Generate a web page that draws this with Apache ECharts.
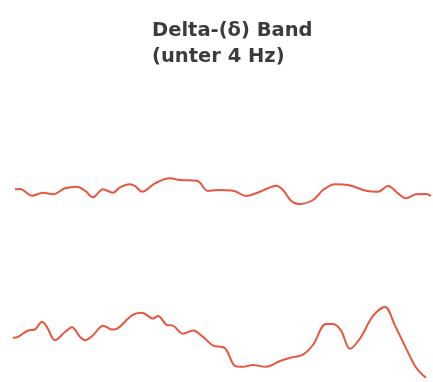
<!DOCTYPE html>
<html><head><meta charset="utf-8">
<script src="https://cdn.jsdelivr.net/npm/echarts@6/dist/echarts.min.js"></script>
<style>html,body{margin:0;padding:0;background:#fff}#c{width:433px;height:382px}</style>
</head><body><div id="c"></div>
<script>
// Trace 1 (upper): time (arbitrary units) and amplitude (arbitrary units, positive up)
const t1 = [15,20,32,43,53,65,77,85,93,103,113,120,130,135,142,155,170,180,197,208,218,234,246,256,268,276,283,291,299,313,323,335,348,366,378,388,398,406,416,426,431];
const a1 = [0.7,1,-5.7,-2.7,-4.3,1.7,3.3,-0.7,-7.3,0.7,-2.7,2.7,5.7,4,-1.7,6.7,11.7,10,9.3,-1,0,-1,-6,-3.3,1.7,4.3,0,-10.7,-14,-10,0,5.7,5,-0.7,-1.7,4,-3.3,-8.3,-4.3,-4,-6];
// Trace 2 (lower)
const t2 = [13,18,28,35,42,47,55,65,72,80,85,93,103,112,118,132,142,153,158,167,173,183,193,203,213,225,235,243,253,266,280,293,303,313,326,333,341,350,360,373,385,395,406,416,426];
const a2 = [0.7,1.7,8.3,9.3,17.3,11.7,-1.7,6.7,11.7,1.7,-1.7,3.3,13.3,9.3,10.7,24,26.7,20.7,23.3,14,13.3,5,8.3,1.7,-7.3,-10,-28.3,-29.3,-27.3,-29.3,-23.3,-19.3,-16.7,-6.7,15,15,8.3,-10.7,0,23.3,32.7,13.3,-10,-30,-40.7];
const titleLines = ['Delta-(δ) Band', '(unter 4 Hz)'];

const chart = echarts.init(document.getElementById('c'), null, {renderer:'canvas'});
const lineColor = '#e8563f';
const xAxisBase = {type:'value', min:0, max:433, show:false};
const yAxisBase = {type:'value', min:-40, max:40, show:false};
chart.setOption({
  animation:false,
  backgroundColor:'#ffffff',
  title:{
    text:titleLines.join('\n'),
    left:147, top:13,
    textStyle:{fontFamily:'DejaVu Sans', fontSize:19.5, fontWeight:'bold', color:'#3c3c3c', lineHeight:26}
  },
  grid:[
    {left:0, width:433, top:150, height:80},
    {left:0, width:433, top:295, height:90}
  ],
  xAxis:[Object.assign({gridIndex:0}, xAxisBase), Object.assign({gridIndex:1}, xAxisBase)],
  yAxis:[Object.assign({gridIndex:0}, yAxisBase), {gridIndex:1, type:'value', min:-45, max:45, show:false}],
  series:[
    {type:'line', xAxisIndex:0, yAxisIndex:0, data:t1.map((t,i)=>[t,a1[i]]), showSymbol:false, smooth:0.35,
     lineStyle:{color:lineColor, width:2}},
    {type:'line', xAxisIndex:1, yAxisIndex:1, data:t2.map((t,i)=>[t,a2[i]]), showSymbol:false, smooth:0.35,
     lineStyle:{color:lineColor, width:2}}
  ]
});
</script></body></html>
